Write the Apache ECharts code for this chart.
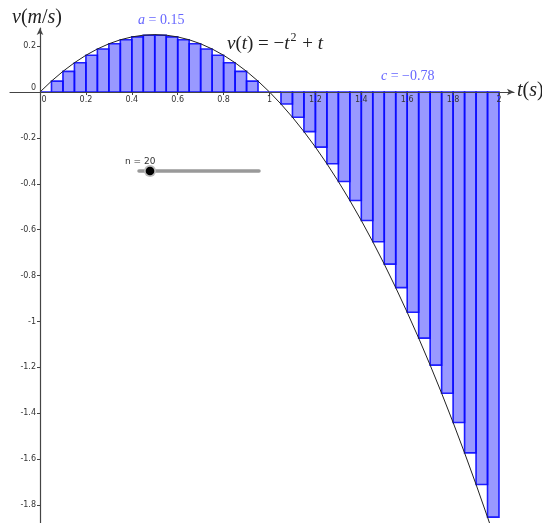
<!DOCTYPE html>
<html>
<head>
<meta charset="utf-8">
<script src="https://cdn.jsdelivr.net/npm/echarts@6/dist/echarts.min.js"></script>
<style>
  html, body { margin: 0; padding: 0; background: #fff; }
  #chart { width: 542px; height: 523px; }
</style>
</head>
<body>
<div id="chart"></div>
<script>
// ---- data ----
const curveT = [0, 0.05, 0.1, 0.15, 0.2, 0.25, 0.3, 0.35, 0.4, 0.45, 0.5, 0.55, 0.6, 0.65, 0.7, 0.75, 0.8, 0.85, 0.9, 0.95,
                1, 1.05, 1.1, 1.15, 1.2, 1.25, 1.3, 1.35, 1.4, 1.45, 1.5, 1.55, 1.6, 1.65, 1.7, 1.75, 1.8, 1.85, 1.9, 1.95, 2];
const curveV = [0, 0.0475, 0.09, 0.1275, 0.16, 0.1875, 0.21, 0.2275, 0.24, 0.2475, 0.25, 0.2475, 0.24, 0.2275, 0.21, 0.1875, 0.16, 0.1275, 0.09, 0.0475,
                0, -0.0525, -0.11, -0.1725, -0.24, -0.3125, -0.39, -0.4725, -0.56, -0.6525, -0.75, -0.8525, -0.96, -1.0725, -1.19, -1.3125, -1.44, -1.5725, -1.71, -1.8525, -2];

const stepWidth = 0.05;
const leftStarts  = [0, 0.05, 0.1, 0.15, 0.2, 0.25, 0.3, 0.35, 0.4, 0.45, 0.5, 0.55, 0.6, 0.65, 0.7, 0.75, 0.8, 0.85, 0.9, 0.95];
const leftHeights = [0, 0.0475, 0.09, 0.1275, 0.16, 0.1875, 0.21, 0.2275, 0.24, 0.2475, 0.2475, 0.24, 0.2275, 0.21, 0.1875, 0.16, 0.1275, 0.09, 0.0475, 0];
const rightStarts  = [1, 1.05, 1.1, 1.15, 1.2, 1.25, 1.3, 1.35, 1.4, 1.45, 1.5, 1.55, 1.6, 1.65, 1.7, 1.75, 1.8, 1.85, 1.9, 1.95];
const rightHeights = [0, -0.0525, -0.11, -0.1725, -0.24, -0.3125, -0.39, -0.4725, -0.56, -0.6525, -0.75, -0.8525, -0.96, -1.0725, -1.19, -1.3125, -1.44, -1.5725, -1.71, -1.8525];

const xTickValues = [0, 0.2, 0.4, 0.6, 0.8, 1, 1.2, 1.4, 1.6, 1.8, 2];
const yTickValues = [-1.8, -1.6, -1.4, -1.2, -1, -0.8, -0.6, -0.4, -0.2, 0, 0.2];

const sliderLabel = 'n = 20';

// ---- chart ----
const chart = echarts.init(document.getElementById('chart'), null, { renderer: 'canvas' });

const curveData = curveT.map((t, i) => [t, curveV[i]]);
const leftData = leftStarts.map((s, i) => [s, s + stepWidth, leftHeights[i]]);
const rightData = rightStarts.map((s, i) => [s, s + stepWidth, rightHeights[i]]);

function renderRect(params, api) {
  const x0 = api.value(0), x1 = api.value(1), h = api.value(2);
  const p0 = api.coord([x0, 0]);
  const p1 = api.coord([x1, h]);
  return {
    type: 'rect',
    shape: {
      x: Math.min(p0[0], p1[0]),
      y: Math.min(p0[1], p1[1]),
      width: Math.abs(p1[0] - p0[0]),
      height: Math.abs(p1[1] - p0[1])
    },
    style: {
      fill: 'rgba(0,0,255,0.4)',
      stroke: 'rgba(10,10,255,0.9)',
      lineWidth: 1.6
    }
  };
}

const fmt = v => String(+(+v).toFixed(1));
const serif = '"Liberation Serif", "DejaVu Serif", serif';
const sans = '"DejaVu Sans", "Liberation Sans", sans-serif';

// grid geometry: left 10, right 28, top 28, bottom 0 ; zero lines at x=40px, y=92px
const option = {
  animation: false,
  backgroundColor: '#ffffff',
  grid: { left: 10, right: 28, top: 28, bottom: 0, containLabel: false, outerBoundsMode: 'none' },
  xAxis: {
    type: 'value',
    position: 'top',
    offset: -64,
    min: -0.13072,
    max: 2.06536,
    z: 10,
    axisLine: { onZero: false, symbol: ['none', 'arrow'], symbolSize: [5, 7], lineStyle: { color: '#444', width: 1.2 } },
    axisTick: { show: true, inside: true, customValues: xTickValues, length: 3, lineStyle: { color: '#444' } },
    axisLabel: {
      inside: true,
      customValues: xTickValues,
      fontSize: 8, color: '#333', fontFamily: sans, margin: 4,
      formatter: v => (+v === 0 ? '{z|0}' : fmt(v)),
      rich: { z: { fontSize: 8, color: '#333', fontFamily: sans, padding: [0, 0, 0, 8] } }
    },
    splitLine: { show: false }
  },
  yAxis: {
    type: 'value',
    position: 'left',
    offset: -30,
    min: -1.878,
    max: 0.27887,
    z: 10,
    axisLine: { onZero: false, symbol: ['none', 'arrow'], symbolSize: [5, 7], lineStyle: { color: '#444', width: 1.2 } },
    axisTick: { show: true, customValues: yTickValues, length: 3, lineStyle: { color: '#444' } },
    axisLabel: {
      customValues: yTickValues,
      fontSize: 8, color: '#333', fontFamily: sans, margin: 4,
      formatter: v => (+v === 0 ? '{z|0}' : fmt(v)),
      rich: { z: { fontSize: 8, color: '#333', fontFamily: sans, padding: [0, 0, 8, 0] } }
    },
    splitLine: { show: false }
  },
  series: [
    { type: 'custom', name: 'a', data: leftData, renderItem: renderRect, clip: true, z: 2, silent: true },
    { type: 'custom', name: 'c', data: rightData, renderItem: renderRect, clip: true, z: 2, silent: true },
    {
      type: 'line', name: 'v', data: curveData, showSymbol: false, smooth: false, clip: true, z: 3,
      lineStyle: { color: '#222', width: 1 }
    }
  ],
  graphic: [
    {
      type: 'text', left: 12, top: 8, z: 20,
      style: {
        text: '{i|v}({i|m}/{i|s})', font: '20px ' + serif, fill: '#222',
        rich: { i: { fontStyle: 'italic', fontSize: 20, fontFamily: serif, fill: '#222' } }
      }
    },
    {
      type: 'text', left: 517, top: 81, z: 20,
      style: {
        text: '{i|t}({i|s})', font: '20px ' + serif, fill: '#222',
        rich: { i: { fontStyle: 'italic', fontSize: 20, fontFamily: serif, fill: '#222' } }
      }
    },
    {
      type: 'text', left: 227, top: 32, z: 20,
      style: {
        text: '{i|v}({i|t}) = −{i|t}{s|2} + {i|t}', font: '19px ' + serif, fill: '#222',
        rich: {
          i: { fontStyle: 'italic', fontSize: 19, fontFamily: serif, fill: '#222' },
          s: { fontSize: 12, fontFamily: serif, fill: '#222', padding: [0, 1, 12, 1] }
        }
      }
    },
    {
      type: 'text', left: 138, top: 13, z: 20,
      style: {
        text: '{i|a} = 0.15', font: '14px ' + serif, fill: '#6666ff',
        rich: { i: { fontStyle: 'italic', fontSize: 14, fontFamily: serif, fill: '#6666ff' } }
      }
    },
    {
      type: 'text', left: 381, top: 69, z: 20,
      style: {
        text: '{i|c} = −0.78', font: '14px ' + serif, fill: '#6666ff',
        rich: { i: { fontStyle: 'italic', fontSize: 14, fontFamily: serif, fill: '#6666ff' } }
      }
    },
    {
      type: 'text', left: 125, top: 157, z: 20,
      style: { text: sliderLabel, font: '9px ' + sans, fill: '#333' }
    },
    {
      type: 'line', z: 19,
      shape: { x1: 139, y1: 171, x2: 259, y2: 171 },
      style: { stroke: '#999', lineWidth: 3.5, lineCap: 'round' }
    },
    {
      type: 'circle', z: 20,
      shape: { cx: 150, cy: 171, r: 6 },
      style: { fill: '#bbb' }
    },
    {
      type: 'circle', z: 21,
      shape: { cx: 150, cy: 171, r: 4.3 },
      style: { fill: '#000' }
    }
  ]
};

chart.setOption(option);
</script>
</body>
</html>
